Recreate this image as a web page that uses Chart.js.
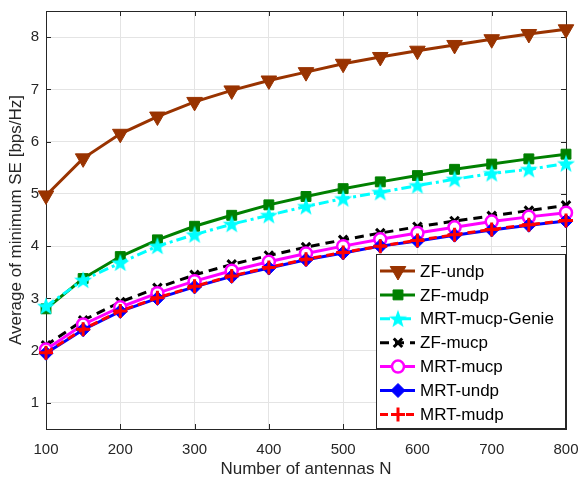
<!DOCTYPE html>
<html>
<head>
<meta charset="utf-8">
<script src="https://cdn.jsdelivr.net/npm/chart.js@4.4.1/dist/chart.umd.min.js"></script>
<style>
  html, body { margin: 0; padding: 0; background: #fff; }
  #wrap { width: 578px; height: 481px; }
</style>
</head>
<body>
<div id="wrap"><canvas id="chart" width="578" height="481"></canvas></div>
<script>
// Average minimum SE vs number of antennas, 7 precoding schemes.

const antennas = [100, 150, 200, 250, 300, 350, 400, 450, 500, 550, 600, 650, 700, 750, 800];
const xTicks = [100, 200, 300, 400, 500, 600, 700, 800];
const yTicks = [1, 2, 3, 4, 5, 6, 7, 8];

const zfUndp     = [4.97, 5.68, 6.15, 6.48, 6.76, 6.98, 7.17, 7.33, 7.49, 7.62, 7.74, 7.85, 7.96, 8.06, 8.15];
const zfMudp     = [2.80, 3.38, 3.80, 4.12, 4.38, 4.59, 4.79, 4.95, 5.10, 5.23, 5.35, 5.47, 5.57, 5.67, 5.76];
const mrtGenie   = [2.85, 3.35, 3.68, 4.00, 4.22, 4.42, 4.59, 4.76, 4.91, 5.03, 5.16, 5.28, 5.39, 5.47, 5.58];
const zfMucp     = [2.10, 2.58, 2.93, 3.20, 3.45, 3.65, 3.82, 3.98, 4.12, 4.25, 4.37, 4.48, 4.58, 4.68, 4.78];
const mrtMucp    = [2.02, 2.50, 2.83, 3.10, 3.33, 3.53, 3.70, 3.86, 4.00, 4.13, 4.25, 4.36, 4.47, 4.56, 4.64];
const mrtUndp    = [1.95, 2.40, 2.75, 3.00, 3.22, 3.42, 3.58, 3.74, 3.87, 4.00, 4.10, 4.21, 4.31, 4.40, 4.48];
const mrtMudp    = [1.96, 2.41, 2.76, 3.01, 3.23, 3.43, 3.59, 3.75, 3.88, 4.00, 4.11, 4.22, 4.32, 4.41, 4.49];

const FONT = '"Liberation Sans", Arial, sans-serif';
const AXIS = "#262626";

function pts(ys) {
  return ys.map((y, i) => ({ x: antennas[i], y }));
}

// filled five-point star marker (Chart.js "star" is an asterisk)
function makeStar(color) {
  const c = document.createElement("canvas");
  c.width = 20; c.height = 20;
  const g = c.getContext("2d");
  g.beginPath();
  for (let k = 0; k < 10; k++) {
    const r = k % 2 === 0 ? 9.5 : 3.9;
    const a = -Math.PI / 2 + k * Math.PI / 5;
    const px = 10 + r * Math.cos(a), py = 10.6 + r * Math.sin(a);
    if (k === 0) g.moveTo(px, py); else g.lineTo(px, py);
  }
  g.closePath();
  g.fillStyle = color;
  g.fill();
  return c;
}
const starImg = makeStar("#00ffff");

// ── Plot box + inward tick marks ──────────────────────────────────

const framePlugin = {
  id: "frame",
  beforeDatasetsDraw(chart) {
    const { ctx, chartArea: a, scales } = chart;
    ctx.save();
    ctx.strokeStyle = AXIS;
    ctx.lineWidth = 1;
    ctx.strokeRect(Math.round(a.left) + 0.5, Math.round(a.top) + 0.5,
      Math.round(a.right - a.left), Math.round(a.bottom - a.top));
    ctx.beginPath();
    xTicks.forEach((v) => {
      const px = Math.round(scales.x.getPixelForValue(v)) + 0.5;
      ctx.moveTo(px, a.bottom); ctx.lineTo(px, a.bottom - 5);
      ctx.moveTo(px, a.top); ctx.lineTo(px, a.top + 5);
    });
    yTicks.forEach((v) => {
      const py = Math.round(scales.y.getPixelForValue(v)) + 0.5;
      ctx.moveTo(a.left, py); ctx.lineTo(a.left + 5, py);
      ctx.moveTo(a.right, py); ctx.lineTo(a.right - 5, py);
    });
    ctx.stroke();
    ctx.restore();
  },
};

// ── Legend inside the plot, bottom right ──────────────────────────

const legendPlugin = {
  id: "insideLegend",
  afterDatasetsDraw(chart) {
    const { ctx, chartArea: a } = chart;
    const w = 189, h = 174;
    const x0 = Math.round(a.right) - w - 1, y0 = Math.round(a.bottom) - h - 1;
    ctx.save();
    ctx.fillStyle = "#fff";
    ctx.fillRect(x0, y0, w, h);
    ctx.strokeStyle = AXIS;
    ctx.lineWidth = 1;
    ctx.strokeRect(x0 + 0.5, y0 + 0.5, w, h);
    chart.data.datasets.forEach((ds, i) => {
      const y = y0 + 17 + i * 23.9;
      ctx.beginPath();
      ctx.setLineDash(ds.borderDash || []);
      ctx.lineWidth = ds.borderWidth;
      ctx.strokeStyle = ds.borderColor;
      ctx.moveTo(x0 + 4, y);
      ctx.lineTo(x0 + 39, y);
      ctx.stroke();
      ctx.setLineDash([]);
      ctx.fillStyle = ds.pointBackgroundColor;
      ctx.strokeStyle = ds.pointBorderColor;
      ctx.lineWidth = ds.pointBorderWidth;
      Chart.helpers.drawPoint(ctx, {
        pointStyle: ds.pointStyle,
        radius: ds.pointRadius,
        rotation: ds.pointRotation || 0,
        borderWidth: ds.pointBorderWidth,
      }, x0 + 22, y);
      ctx.fillStyle = "#000";
      ctx.font = `17px ${FONT}`;
      ctx.textBaseline = "middle";
      ctx.textAlign = "left";
      ctx.fillText(ds.label, x0 + 44, y + 1);
    });
    ctx.restore();
  },
};

function series(label, ys, color, opts) {
  return Object.assign({
    label,
    data: pts(ys),
    borderColor: color,
    borderWidth: 3,
    borderDash: [],
    pointBackgroundColor: color,
    pointBorderColor: color,
    pointBorderWidth: 1,
    pointRadius: 6,
    pointHoverRadius: 6,
    tension: 0,
    clip: false,
  }, opts);
}

const datasets = [
  series("ZF-undp", zfUndp, "#993300", { pointStyle: "triangle", pointRotation: 180, pointRadius: 9 }),
  series("ZF-mudp", zfMudp, "#008000", { pointStyle: "rect", pointRadius: 7 }),
  series("MRT-mucp-Genie", mrtGenie, "#00ffff", { pointStyle: starImg, borderDash: [10, 4, 3, 4] }),
  series("ZF-mucp", zfMucp, "#000000", { pointStyle: "crossRot", pointRadius: 6, pointBorderWidth: 3, borderDash: [9, 6] }),
  series("MRT-mucp", mrtMucp, "#ff00ff", { pointStyle: "circle", pointRadius: 6, pointBackgroundColor: "#ffffff", pointBorderWidth: 2.5 }),
  series("MRT-undp", mrtUndp, "#0000ff", { pointStyle: "rectRot", pointRadius: 7 }),
  series("MRT-mudp", mrtMudp, "#ff0000", { pointStyle: "cross", pointRadius: 7, pointBorderWidth: 3, borderDash: [8, 5] }),
];
// later series on top, as in the original
datasets.forEach((d, i) => { d.order = -i; });

new Chart(document.getElementById("chart"), {
  type: "line",
  data: { datasets },
  plugins: [framePlugin, legendPlugin],
  options: {
    responsive: false,
    animation: false,
    devicePixelRatio: 1,
    layout: { padding: { top: 11, right: 12, left: 0, bottom: 0 } },
    plugins: { legend: { display: false }, tooltip: { enabled: false } },
    scales: {
      x: {
        type: "linear",
        min: 100,
        max: 800,
        afterBuildTicks: (s) => { s.ticks = xTicks.map((v) => ({ value: v })); },
        afterFit: (s) => { s.height = 52; s.paddingLeft = 0; s.paddingRight = 0; },
        grid: { color: "#e4e4e4", drawTicks: false },
        border: { display: false },
        ticks: { color: AXIS, font: { family: FONT, size: 15 }, padding: 12, maxRotation: 0 },
        title: { display: true, text: "Number of antennas N", color: AXIS, font: { family: FONT, size: 17 }, padding: { top: 0, bottom: 1 } },
      },
      y: {
        min: 0.5,
        max: 8.5,
        afterBuildTicks: (s) => { s.ticks = yTicks.map((v) => ({ value: v })); },
        afterFit: (s) => { s.width = 46; s.paddingTop = 0; s.paddingBottom = 0; },
        grid: { color: "#e4e4e4", drawTicks: false },
        border: { display: false },
        ticks: { color: AXIS, font: { family: FONT, size: 15 }, padding: 7 },
        title: { display: true, text: "Average of minimum SE [bps/Hz]", color: AXIS, font: { family: FONT, size: 17 }, padding: { top: 6, bottom: 0 } },
      },
    },
  },
});
</script>
</body>
</html>
